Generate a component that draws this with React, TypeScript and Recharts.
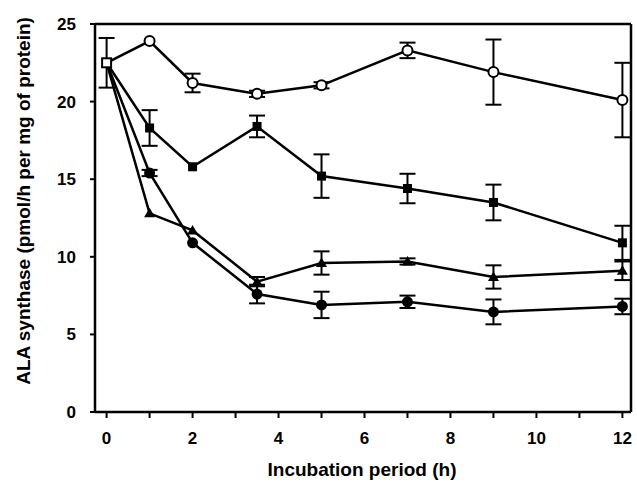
import React from 'react';
import { LineChart, Line, XAxis, YAxis, ErrorBar, ReferenceLine } from 'recharts';

const times = [0, 1, 2, 3.5, 5, 7, 9, 12];
const openCircle = [22.5, 23.9, 21.2, 20.5, 21.05, 23.3, 21.9, 20.1];
const openCircleErr = [1.6, 0, 0.6, 0.2, 0.2, 0.5, 2.1, 2.4];
const filledSquare = [22.5, 18.3, 15.8, 18.4, 15.2, 14.4, 13.5, 10.9];
const filledSquareErr = [0, 1.15, 0, 0.7, 1.4, 0.95, 1.15, 1.1];
const filledTriangle = [22.5, 12.8, 11.7, 8.4, 9.6, 9.7, 8.7, 9.1];
const filledTriangleErr = [0, 0, 0, 0.3, 0.75, 0.2, 0.75, 0.6];
const filledCircle = [22.5, 15.4, 10.9, 7.6, 6.9, 7.1, 6.45, 6.8];
const filledCircleErr = [0, 0.2, 0, 0.6, 0.85, 0.4, 0.8, 0.5];
const xTicks = [0, 1, 2, 3, 4, 5, 6, 7, 8, 9, 10, 11, 12];
const yTicks = [0, 5, 10, 15, 20, 25];

const data = times.map((t, i) => ({
  t,
  a: openCircle[i], aErr: openCircleErr[i],
  b: filledSquare[i], bErr: filledSquareErr[i],
  c: filledTriangle[i], cErr: filledTriangleErr[i],
  d: filledCircle[i], dErr: filledCircleErr[i],
}));

const FONT = 'Liberation Sans, Arial, sans-serif';

const OpenDot = (p: any) => {
  const { cx, cy, index } = p;
  if (index === 0)
    return <rect key={`a${index}`} x={cx - 4.5} y={cy - 4.5} width={9} height={9} fill="#fff" stroke="#000" strokeWidth={2} />;
  return <circle key={`a${index}`} cx={cx} cy={cy} r={5} fill="#fff" stroke="#000" strokeWidth={2} />;
};
const SquareDot = (p: any) => {
  const { cx, cy, index } = p;
  if (index === 0) return <g key={`b${index}`} />;
  return <rect key={`b${index}`} x={cx - 4.5} y={cy - 4.5} width={9} height={9} fill="#000" />;
};
const TriDot = (p: any) => {
  const { cx, cy, index } = p;
  if (index === 0) return <g key={`c${index}`} />;
  return <path key={`c${index}`} d={`M${cx},${cy - 5.5} L${cx + 5.5},${cy + 4} L${cx - 5.5},${cy + 4} Z`} fill="#000" />;
};
const CircleDot = (p: any) => {
  const { cx, cy, index } = p;
  if (index === 0) return <g key={`d${index}`} />;
  return <circle key={`d${index}`} cx={cx} cy={cy} r={5.5} fill="#000" />;
};

const axisLine = { stroke: '#000', strokeWidth: 2.5 };
const tickLine = { stroke: '#000', strokeWidth: 2 };
const tickStyle = { fill: '#000', fontSize: 17, fontFamily: FONT, fontWeight: 700 };

export default function App() {
  return (
    <div style={{ position: 'absolute', left: 0, top: 0, background: '#fff' }}>
      <LineChart width={637} height={482} data={data} margin={{ top: 24, right: 0, bottom: 0, left: 0 }}>
        <XAxis
          dataKey="t"
          type="number"
          domain={[-0.27, 12.2]}
          allowDataOverflow
          ticks={xTicks}
          interval={0}
          tickFormatter={(v: number) => (v % 2 === 0 ? String(v) : '')}
          height={70}
          axisLine={axisLine}
          tickLine={tickLine}
          tickSize={6}
          tickMargin={14}
          tick={tickStyle}
          label={{
            content: () => (
              <text x={362} y={476} textAnchor="middle" fontSize={19} fontWeight={700} fontFamily={FONT} fill="#000">
                Incubation period (h)
              </text>
            ),
          }}
        />
        <YAxis
          yAxisId="l"
          domain={[0, 25]}
          ticks={yTicks}
          interval={0}
          width={95}
          axisLine={axisLine}
          tickLine={tickLine}
          tickSize={5}
          tickMargin={14}
          tick={tickStyle}
          label={{
            content: () => (
              <text transform="translate(23,201) rotate(-90)" textAnchor="middle" dominantBaseline="central" fontSize={19} fontWeight={700} fontFamily={FONT} fill="#000">
                ALA synthase (pmol/h per mg of protein)
              </text>
            ),
          }}
        />
        <YAxis
          yAxisId="r"
          orientation="right"
          domain={[0, 25]}
          ticks={yTicks}
          interval={0}
          width={6}
          axisLine={axisLine}
          tickLine={tickLine}
          tickSize={4}
          tick={false}
        />
        <ReferenceLine yAxisId="l" y={25} stroke="#000" strokeWidth={2.5} />
        <Line yAxisId="l" dataKey="d" stroke="#000" strokeWidth={2.5} dot={CircleDot} isAnimationActive={false}>
          <ErrorBar dataKey="dErr" width={8} strokeWidth={2} stroke="#000" direction="y" />
        </Line>
        <Line yAxisId="l" dataKey="c" stroke="#000" strokeWidth={2.5} dot={TriDot} isAnimationActive={false}>
          <ErrorBar dataKey="cErr" width={8} strokeWidth={2} stroke="#000" direction="y" />
        </Line>
        <Line yAxisId="l" dataKey="b" stroke="#000" strokeWidth={2.5} dot={SquareDot} isAnimationActive={false}>
          <ErrorBar dataKey="bErr" width={8} strokeWidth={2} stroke="#000" direction="y" />
        </Line>
        <Line yAxisId="l" dataKey="a" stroke="#000" strokeWidth={2.5} dot={OpenDot} isAnimationActive={false}>
          <ErrorBar dataKey="aErr" width={8} strokeWidth={2} stroke="#000" direction="y" />
        </Line>
      </LineChart>
    </div>
  );
}
